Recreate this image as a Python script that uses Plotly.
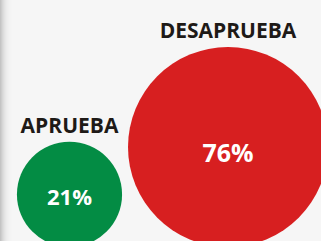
import math
import plotly.graph_objects as go

categories = ["APRUEBA", "DESAPRUEBA"]
values = [21, 76]
value_labels = ["21%", "76%"]
colors = ["#038c44", "#d71f20"]

W, H = 321, 241
max_radius_px = 100
sizeref = max(values) / (2 * max_radius_px ** 2)
radii = [math.sqrt(v / (2 * sizeref)) for v in values]
centers_y = radii  # circles share a common baseline (y=0)
label_y = [2 * r + 14.5 for r in radii]
pct_y = [centers_y[0] - 5.5, centers_y[1] - 8.5]

fig = go.Figure()

# bubbles
fig.add_trace(go.Scatter(
    x=categories, y=centers_y, mode="markers",
    marker=dict(size=values, sizemode="area", sizeref=sizeref,
                color=colors, line=dict(width=0), opacity=1),
    cliponaxis=False, hoverinfo="skip", showlegend=False))

# percentages inside
fig.add_trace(go.Scatter(
    x=categories, y=pct_y, mode="text",
    text=["<b>%s</b>" % t for t in value_labels], textposition="middle center",
    textfont=dict(family="Open Sans", size=[22, 25], color="white"),
    hoverinfo="skip", showlegend=False, cliponaxis=False))

# category labels above
fig.add_trace(go.Scatter(
    x=categories, y=label_y, mode="text",
    text=["<b>%s</b>" % t for t in categories], textposition="middle center",
    textfont=dict(family="Open Sans", size=21, color="#1e1a17"),
    hoverinfo="skip", showlegend=False, cliponaxis=False))

# left edge shadow
shades = ["#c4c4c4", "#cdcdcd", "#d6d6d6", "#dddddd", "#e3e3e3", "#e8e8e8",
          "#ececec", "#efefef", "#f1f1f1", "#f3f3f3", "#f4f4f4", "#f5f5f5"]
for i, c in enumerate(shades):
    fig.add_shape(type="rect", xref="paper", yref="paper",
                  x0=i / W, x1=(i + 1.5) / W, y0=0, y1=1,
                  fillcolor=c, line=dict(width=0), layer="below")

# category axis positioning: APRUEBA centered at 69.5px, DESAPRUEBA at 228px
px_per_unit = 228 - 69.5
fig.update_xaxes(range=[-69.5 / px_per_unit, 1 + (W - 228) / px_per_unit],
                 visible=False, fixedrange=True)
fig.update_yaxes(range=[247 - H, 247], visible=False, fixedrange=True)

fig.update_layout(width=W, height=H, margin=dict(l=0, r=0, t=0, b=0),
                  paper_bgcolor="#f6f6f6", plot_bgcolor="rgba(0,0,0,0)",
                  hovermode=False)

fig.write_html("out.html", config={"displayModeBar": False, "staticPlot": True},
               post_script="document.body.style.margin='0';document.body.style.overflow='hidden';")
